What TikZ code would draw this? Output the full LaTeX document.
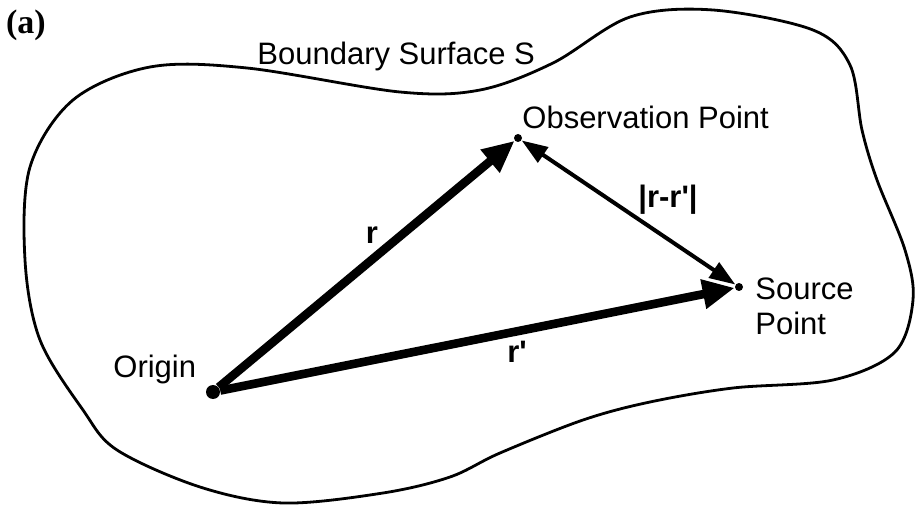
\documentclass[tikz,border=0pt]{standalone}
\usepackage{fontspec}
\setmainfont{Liberation Sans}
\newfontfamily\tagfont{Liberation Serif}
\usetikzlibrary{arrows.meta}

\newcommand{\lblsize}{\fontsize{15.5}{17.5}\selectfont}
\newcommand{\qt}{\textquotesingle}

\tikzset{
  dot/.style={circle, fill, inner sep=0pt, minimum size=#1},
  lbl/.style={inner sep=0pt},
  vlbl/.style={inner sep=0pt, anchor=base, font=\lblsize\bfseries},
  vec/.style={line width=4.3pt, -{Triangle[length=16pt, width=14pt]}},
  dist/.style={line width=2pt, {Triangle[length=13pt, width=9pt]}-{Triangle[length=13pt, width=9pt]}}
}

\begin{document}
\begin{tikzpicture}[x=0.5pt, y=-0.5pt, font=\lblsize]
  \useasboundingbox (0,0) rectangle (917,508);
  % boundary surface
  \draw[line width=1.4pt] plot[smooth cycle, tension=0.55] coordinates {
    (73,100) (150,67) (247,68) (400,92) (480,90) (553,63) (630,17) (713,10)
    (813,30) (850,65) (862,130) (877,180) (905,250) (913,300) (895,352)
    (833,380) (733,388) (650,402) (583,420) (500,453) (450,477) (383,493)
    (283,503) (200,487) (117,450) (83,410) (40,340) (25,260) (30,167)};
  \node[lbl, anchor=base west] (bnd) at (257,65) {Boundary Surface S};
  \node[font=\tagfont\bfseries\fontsize{17}{19}\selectfont] (tag) at (26,25) {(a)};

  \node[dot=7pt] (origin) at (213,392) {};
  \node[dot=4pt] (obs) at (518,138) {};
  \node[dot=4pt] (src) at (739,287) {};

  \draw[vec] (origin) -- (obs);
  \draw[vec] (origin) -- (src);
  \draw[dist] (obs) -- (src);

  \node[lbl, anchor=base west] (originlbl) at (113,377) {Origin};
  \node[lbl, anchor=base west] (obslbl) at (522,129) {Observation Point};
  \node[lbl, anchor=north west, align=left] (srclbl) at (755,277) {Source\\Point};
  \node[vlbl] (rlbl) at (372,243) {r};
  \node[vlbl] (rplbl) at (517,363) {r\qt};
  \node[vlbl] (dlbl) at (668,207) {|r-r\qt|};
\end{tikzpicture}
\end{document}
